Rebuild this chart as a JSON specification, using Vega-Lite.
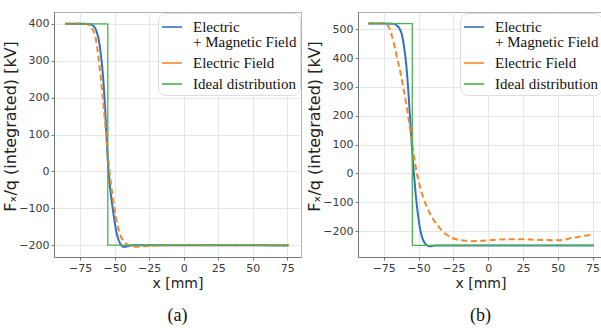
{
  "$schema": "https://vega.github.io/schema/vega-lite/v6.json",
  "padding": {"left": 2, "top": 11, "right": 0, "bottom": 0},
  "background": "white",
  "spacing": 4,
  "datasets": {
    "a": [
      {"s":"EM","x":-86,"y":400},{"s":"EM","x":-75,"y":400},{"s":"EM","x":-68,"y":399},{"s":"EM","x":-65,"y":393},{"s":"EM","x":-63,"y":378},{"s":"EM","x":-61,"y":345},{"s":"EM","x":-60,"y":315},{"s":"EM","x":-59,"y":280},{"s":"EM","x":-58,"y":235},{"s":"EM","x":-57,"y":175},{"s":"EM","x":-56,"y":100},{"s":"EM","x":-55,"y":30},{"s":"EM","x":-54,"y":-20},{"s":"EM","x":-53,"y":-55},{"s":"EM","x":-52,"y":-85},{"s":"EM","x":-51,"y":-112},{"s":"EM","x":-50,"y":-138},{"s":"EM","x":-49,"y":-160},{"s":"EM","x":-48,"y":-176},{"s":"EM","x":-47,"y":-188},{"s":"EM","x":-46,"y":-196},{"s":"EM","x":-45,"y":-201},{"s":"EM","x":-44,"y":-204},{"s":"EM","x":-42,"y":-204},{"s":"EM","x":-40,"y":-202},{"s":"EM","x":-37,"y":-200},{"s":"EM","x":-20,"y":-200},{"s":"EM","x":0,"y":-200},{"s":"EM","x":25,"y":-200},{"s":"EM","x":50,"y":-200},{"s":"EM","x":76,"y":-201},
      {"s":"E","x":-86,"y":400},{"s":"E","x":-80,"y":401},{"s":"E","x":-73,"y":401},{"s":"E","x":-70,"y":399},{"s":"E","x":-68,"y":394},{"s":"E","x":-66,"y":385},{"s":"E","x":-64,"y":365},{"s":"E","x":-62,"y":315},{"s":"E","x":-60,"y":250},{"s":"E","x":-58,"y":175},{"s":"E","x":-56,"y":90},{"s":"E","x":-54,"y":10},{"s":"E","x":-52,"y":-55},{"s":"E","x":-50,"y":-105},{"s":"E","x":-48,"y":-145},{"s":"E","x":-46,"y":-172},{"s":"E","x":-44,"y":-187},{"s":"E","x":-42,"y":-195},{"s":"E","x":-39,"y":-201},{"s":"E","x":-36,"y":-204},{"s":"E","x":-32,"y":-204},{"s":"E","x":-28,"y":-203},{"s":"E","x":-20,"y":-201},{"s":"E","x":0,"y":-200},{"s":"E","x":25,"y":-200},{"s":"E","x":50,"y":-200},{"s":"E","x":76,"y":-200},
      {"s":"Ideal","x":-86,"y":400,"i":1},{"s":"Ideal","x":-55,"y":400,"i":2},{"s":"Ideal","x":-55,"y":-200,"i":3},{"s":"Ideal","x":76,"y":-200,"i":4}
    ],
    "b": [
      {"s":"EM","x":-86,"y":520},{"s":"EM","x":-75,"y":520},{"s":"EM","x":-68,"y":519},{"s":"EM","x":-66,"y":515},{"s":"EM","x":-64,"y":505},{"s":"EM","x":-62,"y":482},{"s":"EM","x":-60,"y":425},{"s":"EM","x":-59,"y":385},{"s":"EM","x":-58,"y":330},{"s":"EM","x":-57,"y":260},{"s":"EM","x":-56,"y":185},{"s":"EM","x":-55,"y":110},{"s":"EM","x":-54,"y":40},{"s":"EM","x":-53,"y":-20},{"s":"EM","x":-52,"y":-75},{"s":"EM","x":-51,"y":-120},{"s":"EM","x":-50,"y":-158},{"s":"EM","x":-49,"y":-190},{"s":"EM","x":-48,"y":-212},{"s":"EM","x":-47,"y":-228},{"s":"EM","x":-46,"y":-238},{"s":"EM","x":-45,"y":-245},{"s":"EM","x":-43,"y":-252},{"s":"EM","x":-41,"y":-253},{"s":"EM","x":-38,"y":-250},{"s":"EM","x":-30,"y":-250},{"s":"EM","x":0,"y":-250},{"s":"EM","x":25,"y":-250},{"s":"EM","x":50,"y":-250},{"s":"EM","x":76,"y":-250},
      {"s":"E","x":-86,"y":520},{"s":"E","x":-80,"y":522},{"s":"E","x":-76,"y":522},{"s":"E","x":-73,"y":517},{"s":"E","x":-71,"y":505},{"s":"E","x":-69,"y":475},{"s":"E","x":-67,"y":435},{"s":"E","x":-65,"y":392},{"s":"E","x":-63,"y":350},{"s":"E","x":-61,"y":300},{"s":"E","x":-59,"y":245},{"s":"E","x":-57,"y":185},{"s":"E","x":-55,"y":120},{"s":"E","x":-53,"y":50},{"s":"E","x":-51,"y":-5},{"s":"E","x":-49,"y":-45},{"s":"E","x":-47,"y":-78},{"s":"E","x":-45,"y":-105},{"s":"E","x":-42.6,"y":-131},{"s":"E","x":-40,"y":-155},{"s":"E","x":-37.8,"y":-171},{"s":"E","x":-35,"y":-188},{"s":"E","x":-33,"y":-200},{"s":"E","x":-30,"y":-212},{"s":"E","x":-26,"y":-224},{"s":"E","x":-22,"y":-230},{"s":"E","x":-18,"y":-233},{"s":"E","x":-12,"y":-235},{"s":"E","x":-5,"y":-234},{"s":"E","x":0,"y":-232},{"s":"E","x":10,"y":-229},{"s":"E","x":22,"y":-228},{"s":"E","x":34,"y":-230},{"s":"E","x":48,"y":-232},{"s":"E","x":54,"y":-231},{"s":"E","x":58,"y":-226},{"s":"E","x":63,"y":-222},{"s":"E","x":68,"y":-217},{"s":"E","x":76,"y":-212},
      {"s":"Ideal","x":-86,"y":520,"i":1},{"s":"Ideal","x":-54.5,"y":520,"i":2},{"s":"Ideal","x":-54.5,"y":-250,"i":3},{"s":"Ideal","x":76,"y":-250,"i":4}
    ]
  },
  "hconcat": [
    {
      "data": {"name": "a"},
      "width": 247,
      "height": 245,
      "title": {"text": "(a)", "orient": "bottom", "offset": 17},
      "encoding": {
        "x": {"field": "x", "type": "quantitative", "title": "x [mm]", "scale": {"domain": [-94, 85], "nice": false, "zero": false}, "axis": {"values": [-75, -50, -25, 0, 25, 50, 75]}},
        "y": {"field": "y", "type": "quantitative", "title": "Fₓ/q (integrated) [kV]", "scale": {"domain": [-232, 432], "nice": false, "zero": false}, "axis": {"values": [-200, -100, 0, 100, 200, 300, 400], "titleY": 114}},
        "color": {"field": "s", "type": "nominal", "scale": {"domain": ["EM", "E", "Ideal"], "range": ["#2f72c4", "#f7862a", "#4caf50"]}, "legend": {"orient": "top-right", "offset": 1, "labelFont": "Liberation Serif", "labelFontSize": 15, "labelExpr": "datum.value == 'EM' ? ['Electric', ' + Magnetic Field'] : datum.value == 'E' ? ' Electric Field' : ' Ideal distribution'", "encode": {"labels": {"update": {"font": {"value": "Liberation Serif"}, "lineHeight": {"value": 15}}}}}}
      },
      "layer": [
        {"transform": [{"filter": "datum.s == 'EM'"}], "mark": {"type": "line", "strokeWidth": 2, "interpolate": "monotone"}},
        {"transform": [{"filter": "datum.s == 'E'"}], "mark": {"type": "line", "strokeWidth": 2, "strokeDash": [6, 3.5], "interpolate": "monotone"}},
        {"transform": [{"filter": "datum.s == 'Ideal'"}], "mark": {"type": "line", "strokeWidth": 1.3}, "encoding": {"order": {"field": "i", "type": "quantitative"}}}
      ]
    },
    {
      "data": {"name": "b"},
      "width": 245,
      "height": 245,
      "title": {"text": "(b)", "orient": "bottom", "offset": 17},
      "encoding": {
        "x": {"field": "x", "type": "quantitative", "title": "x [mm]", "scale": {"domain": [-93.5, 82.5], "nice": false, "zero": false}, "axis": {"values": [-75, -50, -25, 0, 25, 50, 75]}},
        "y": {"field": "y", "type": "quantitative", "title": "Fₓ/q (integrated) [kV]", "scale": {"domain": [-290, 560], "nice": false, "zero": false}, "axis": {"values": [-200, -100, 0, 100, 200, 300, 400, 500], "titleY": 114}},
        "color": {"field": "s", "type": "nominal", "scale": {"domain": ["EM", "E", "Ideal"], "range": ["#2f72c4", "#f7862a", "#4caf50"]}, "legend": {"orient": "top-right", "offset": 1, "labelFont": "Liberation Serif", "labelFontSize": 15, "labelExpr": "datum.value == 'EM' ? ['Electric', ' + Magnetic Field'] : datum.value == 'E' ? ' Electric Field' : ' Ideal distribution'", "encode": {"labels": {"update": {"font": {"value": "Liberation Serif"}, "lineHeight": {"value": 15}}}}}}
      },
      "layer": [
        {"transform": [{"filter": "datum.s == 'EM'"}], "mark": {"type": "line", "strokeWidth": 2, "interpolate": "monotone"}},
        {"transform": [{"filter": "datum.s == 'E'"}], "mark": {"type": "line", "strokeWidth": 2, "strokeDash": [6, 3.5], "interpolate": "monotone"}},
        {"transform": [{"filter": "datum.s == 'Ideal'"}], "mark": {"type": "line", "strokeWidth": 1.3}, "encoding": {"order": {"field": "i", "type": "quantitative"}}}
      ]
    }
  ],
  "resolve": {"scale": {"color": "independent"}, "legend": {"color": "independent"}},
  "config": {
    "view": {"stroke": "#b0b0b0", "strokeWidth": 1},
    "axis": {
      "labelFont": "DejaVu Sans", "labelFontSize": 11, "labelColor": "#3a3a3a",
      "titleFont": "DejaVu Sans", "titleFontWeight": "normal", "titleColor": "#222",
      "gridColor": "#e6e6e6", "domainColor": "#777", "tickColor": "#777", "tickSize": 3, "labelPadding": 2
    },
    "axisX": {"titleFontSize": 14, "titlePadding": 3},
    "axisY": {"titleFontSize": 16, "titlePadding": 0},
    "title": {"font": "Liberation Serif", "fontSize": 18, "fontWeight": "normal", "color": "#111"},
    "legend": {
      "title": null,
      "labelColor": "#111", "labelFont": "Liberation Serif",
      "symbolType": "stroke", "symbolSize": 400, "symbolStrokeWidth": 1.6,
      "fillColor": "white", "strokeColor": "#dddddd", "cornerRadius": 8, "padding": 3,
      "rowPadding": 2, "labelOffset": 10
    }
  }
}
